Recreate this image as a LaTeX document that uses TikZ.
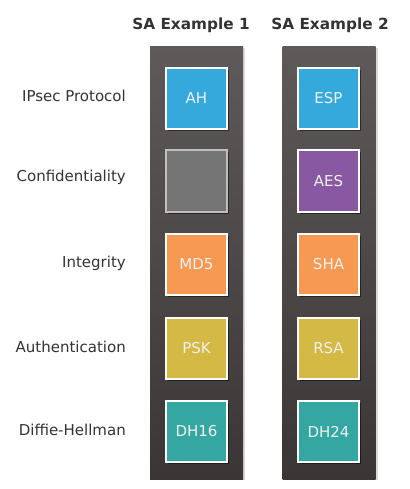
\documentclass[tikz,border=0pt]{standalone}
\usepackage{fontspec}
\setmainfont{DejaVu Sans}
\usepackage{tikz}
\usetikzlibrary{shadows,positioning}
\definecolor{colTop}{RGB}{95, 90, 90}
\definecolor{colBot}{RGB}{58, 54, 54}
\definecolor{txtgray}{RGB}{51, 51, 51}
\definecolor{ahblue}{RGB}{53, 169, 220}
\definecolor{aespurple}{RGB}{137, 88, 162}
\definecolor{mdorange}{RGB}{246, 154, 83}
\definecolor{pskyellow}{RGB}{212, 185, 68}
\definecolor{dhteal}{RGB}{52, 167, 162}
\definecolor{nogray}{RGB}{117, 117, 117}

\begin{document}
\begin{tikzpicture}[x=1pt, y=-1pt, every node/.style={font=\fontsize{15}{18}\selectfont},
    colbox/.style={rectangle, top color=colTop, bottom color=colBot, minimum width=93pt, minimum height=432pt, inner sep=0pt,
        drop shadow={shadow xshift=2pt, shadow yshift=-1pt, fill=black, opacity=0.15}},
    algbox/.style={rectangle, draw=white, line width=2pt, minimum size=61pt, inner sep=0pt, text=white!94!black,
        drop shadow={shadow xshift=2pt, shadow yshift=-2pt, fill=black, opacity=0.5}},
    rowlabel/.style={anchor=east, text=txtgray, inner sep=0pt},
    satitle/.style={font=\fontsize{15.3}{18}\selectfont\bfseries, text=txtgray, inner sep=0pt}]
  \useasboundingbox (0,0) rectangle (409,489);

  % columns
  \node[colbox] (sa1) at (196.5,263) {};
  \node[colbox] (sa2) at (329,263) {};
  \node[satitle] (t1) at (191,25) {SA Example 1};
  \node[satitle] (t2) at (330,25) {SA Example 2};

  % row labels
  \node[rowlabel] (l1) at (126,96) {IPsec Protocol};
  \node[rowlabel] (l2) at (126,177) {Confidentiality};
  \node[rowlabel] (l3) at (126,263) {Integrity};
  \node[rowlabel] (l4) at (126,347) {Authentication};
  \node[rowlabel] (l5) at (126,430) {Diffie-Hellman};

  % first SA
  \node[algbox, fill=ahblue] (ah) at (196.5,98.5) {AH};
  \node[algbox, fill=nogray, draw=white!75!black] (enc1) at (196.5,181) {};
  \node[algbox, fill=mdorange] (md5) at (196.5,264.5) {MD5};
  \node[algbox, fill=pskyellow] (psk) at (196.5,348) {PSK};
  \node[algbox, fill=dhteal] (dh16) at (196.5,431.5) {DH16};

  % second SA
  \node[algbox, fill=ahblue] (esp) at (328.5,98.5) {ESP};
  \node[algbox, fill=aespurple] (aes) at (328.5,181) {AES};
  \node[algbox, fill=mdorange] (sha) at (328.5,264.5) {SHA};
  \node[algbox, fill=pskyellow] (rsa) at (328.5,348) {RSA};
  \node[algbox, fill=dhteal] (dh24) at (328.5,431.5) {DH24};
\end{tikzpicture}
\end{document}
